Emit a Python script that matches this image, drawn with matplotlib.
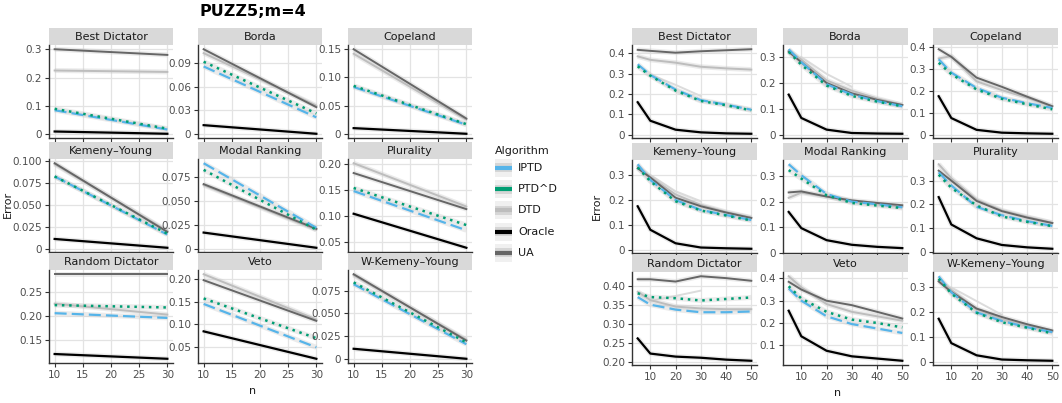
import numpy as np
import matplotlib
matplotlib.use("Agg")
import matplotlib.pyplot as plt
from matplotlib.patches import Rectangle

W, H, DPI = 1062, 403, 100

panels = ["Best Dictator", "Borda", "Copeland",
          "Kemeny\u2013Young", "Modal Ranking", "Plurality",
          "Random Dictator", "Veto", "W-Kemeny\u2013Young"]
algorithms = ["IPTD", "PTD^D", "DTD", "Oracle", "UA"]

# ---------------- left grid (PUZZ5; m=4) ----------------
left_n = [10, 30]
left_iptd = [[0.085, 0.017], [0.086, 0.021], [0.083, 0.016],
             [0.082, 0.016], [0.090, 0.022], [0.148, 0.072],
             [0.206, 0.196], [0.145, 0.050], [0.082, 0.016]]
left_ptdd = [[0.090, 0.020], [0.092, 0.026], [0.085, 0.017],
             [0.082, 0.017], [0.083, 0.020], [0.154, 0.082],
             [0.223, 0.218], [0.157, 0.070], [0.084, 0.018]]
left_dtd = [[0.225, 0.220], [0.103, 0.036], [0.142, 0.025],
            [0.096, 0.020], [0.067, 0.020], [0.202, 0.118],
            [0.226, 0.203], [0.210, 0.111], [0.092, 0.021]]
left_oracle = [[0.010, 0.002], [0.011, 0.000], [0.010, 0.000],
               [0.011, 0.001], [0.017, 0.001], [0.104, 0.038],
               [0.120, 0.110], [0.085, 0.025], [0.011, 0.000]]
left_ua = [[0.300, 0.280], [0.108, 0.034], [0.150, 0.027],
           [0.097, 0.019], [0.068, 0.021], [0.183, 0.113],
           [0.288, 0.288], [0.197, 0.108], [0.093, 0.020]]
left_yticks = [[0, 0.1, 0.2, 0.3], [0, 0.03, 0.06, 0.09], [0, 0.05, 0.1, 0.15],
               [0, 0.025, 0.05, 0.075, 0.1], [0, 0.025, 0.05, 0.075], [0.05, 0.1, 0.15, 0.2],
               [0.15, 0.2, 0.25], [0.05, 0.1, 0.15, 0.2], [0, 0.025, 0.05, 0.075]]
left_xticks = [10, 15, 20, 25, 30]

# ---------------- right grid ----------------
right_n = [5, 10, 20, 30, 40, 50]
right_iptd = [[0.346, 0.294, 0.222, 0.170, 0.148, 0.123],
              [0.330, 0.280, 0.195, 0.155, 0.130, 0.110],
              [0.346, 0.285, 0.215, 0.170, 0.145, 0.123],
              [0.343, 0.280, 0.200, 0.160, 0.140, 0.120],
              [0.346, 0.303, 0.230, 0.200, 0.190, 0.178],
              [0.335, 0.280, 0.190, 0.155, 0.130, 0.110],
              [0.370, 0.350, 0.337, 0.330, 0.330, 0.332],
              [0.355, 0.300, 0.230, 0.195, 0.175, 0.155],
              [0.345, 0.280, 0.200, 0.165, 0.140, 0.120]]
right_ptdd = [[0.336, 0.290, 0.217, 0.166, 0.145, 0.120],
              [0.320, 0.270, 0.190, 0.150, 0.128, 0.110],
              [0.330, 0.278, 0.208, 0.165, 0.140, 0.117],
              [0.330, 0.275, 0.195, 0.158, 0.138, 0.118],
              [0.323, 0.290, 0.225, 0.195, 0.185, 0.175],
              [0.325, 0.270, 0.196, 0.150, 0.127, 0.109],
              [0.380, 0.370, 0.367, 0.361, 0.365, 0.369],
              [0.365, 0.310, 0.250, 0.215, 0.200, 0.180],
              [0.335, 0.275, 0.198, 0.160, 0.138, 0.115]]
right_dtd = [[0.385, 0.368, 0.354, 0.334, 0.326, 0.320],
             [0.325, 0.290, 0.210, 0.170, 0.140, 0.115],
             [0.350, 0.360, 0.245, 0.205, 0.170, 0.130],
             [0.335, 0.292, 0.222, 0.180, 0.152, 0.130],
             [0.215, 0.235, 0.220, 0.200, 0.190, 0.180],
             [0.369, 0.310, 0.220, 0.175, 0.148, 0.123],
             [0.384, 0.362, 0.345, 0.340, 0.338, 0.338],
             [0.410, 0.360, 0.285, 0.250, 0.230, 0.210],
             [0.330, 0.290, 0.212, 0.172, 0.145, 0.122]]
right_oracle = [[0.160, 0.069, 0.025, 0.012, 0.007, 0.005],
                [0.155, 0.065, 0.020, 0.007, 0.005, 0.004],
                [0.177, 0.077, 0.023, 0.010, 0.007, 0.005],
                [0.175, 0.081, 0.027, 0.010, 0.007, 0.005],
                [0.160, 0.097, 0.050, 0.032, 0.024, 0.019],
                [0.231, 0.116, 0.058, 0.030, 0.020, 0.014],
                [0.261, 0.221, 0.213, 0.210, 0.205, 0.202],
                [0.255, 0.140, 0.075, 0.050, 0.040, 0.030],
                [0.174, 0.076, 0.027, 0.010, 0.007, 0.005]]
right_ua = [[0.417, 0.412, 0.403, 0.410, 0.415, 0.420],
            [0.320, 0.280, 0.200, 0.160, 0.135, 0.115],
            [0.392, 0.357, 0.262, 0.220, 0.175, 0.131],
            [0.327, 0.290, 0.209, 0.175, 0.150, 0.128],
            [0.236, 0.240, 0.220, 0.205, 0.195, 0.186],
            [0.342, 0.300, 0.215, 0.172, 0.145, 0.122],
            [0.417, 0.417, 0.411, 0.425, 0.420, 0.413],
            [0.385, 0.350, 0.300, 0.280, 0.250, 0.220],
            [0.324, 0.282, 0.215, 0.181, 0.152, 0.127]]
right_faint = [[np.nan, 0.296, 0.245, 0.190, np.nan, np.nan],
               [np.nan, 0.300, 0.235, 0.185, np.nan, np.nan],
               [np.nan] * 6,
               [np.nan, 0.300, 0.235, 0.195, np.nan, np.nan],
               [np.nan] * 6,
               [np.nan] * 6,
               [np.nan, 0.360, 0.373, 0.387, np.nan, np.nan],
               [np.nan] * 6,
               [np.nan, 0.300, 0.245, 0.190, np.nan, np.nan]]
right_yticks = [[0, 0.1, 0.2, 0.3, 0.4], [0, 0.1, 0.2, 0.3], [0, 0.1, 0.2, 0.3, 0.4],
                [0, 0.1, 0.2, 0.3], [0, 0.1, 0.2, 0.3], [0, 0.1, 0.2, 0.3],
                [0.2, 0.25, 0.3, 0.35, 0.4], [0.1, 0.2, 0.3, 0.4], [0, 0.1, 0.2, 0.3]]
right_xticks = [10, 20, 30, 40, 50]

# ---------------- styles ----------------
COL = {"IPTD": "#56B4E9", "PTD^D": "#009E73", "DTD": "#BDBDBD",
       "Oracle": "#000000", "UA": "#666666"}
STYLE = {"DTD": dict(ls="-", lw=1.4),
         "UA": dict(ls="-", lw=1.4),
         "Oracle": dict(ls="-", lw=1.6),
         "IPTD": dict(ls=(0, (5.4, 2.3)), lw=1.6),
         "PTD^D": dict(ls=(0, (1, 1.9)), lw=1.8)}
TXT = "#1A1A1A"
TICKC = "#4D4D4D"

fig = plt.figure(figsize=(W / DPI, H / DPI), dpi=DPI)


def fig_axes(x0, y_top, w, h):
    return fig.add_axes([x0 / W, 1 - (y_top + h) / H, w / W, h / H])


def decimals(v):
    s = repr(float(v))
    return len(s.split(".")[1].rstrip("0")) if "." in s else 0


def tick_labels(vals):
    d = max(decimals(v) for v in vals)
    return ["0" if v == 0 else f"{v:.{d}f}" for v in vals]


def draw_grid(col_x, strip_tops, width, xvals, xlim, xticks, data, faint, yticks):
    strip_h, ax_h = 17, 93
    for i, name in enumerate(panels):
        r, c = divmod(i, 3)
        x0 = col_x[c]
        st = strip_tops[r]
        # strip
        sax = fig_axes(x0, st, width, strip_h)
        sax.set_axis_off()
        sax.add_patch(Rectangle((0, 0), 1, 1, transform=sax.transAxes,
                                facecolor="#D9D9D9", edgecolor="none"))
        sax.text(0.5, 0.47, name, ha="center", va="center", fontsize=8, color=TXT,
                 transform=sax.transAxes)
        ax = fig_axes(x0, st + strip_h, width, ax_h)
        ax.set_facecolor("white")
        ax.grid(True, color="#E3E3E3", lw=0.9)
        ax.set_axisbelow(True)
        if faint is not None:
            ax.plot(xvals, faint[i], color="#DCDCDC", lw=1.4, zorder=1.5)
        for alg in ["DTD", "UA", "Oracle", "IPTD", "PTD^D"]:
            y = data[alg][i]
            ax.plot(xvals, y, color="#C8C8C8", lw=3.6, alpha=0.35,
                    solid_capstyle="butt", zorder=1.8)
            ax.plot(xvals, y, color=COL[alg], zorder=2, **STYLE[alg])
        ax.set_xlim(*xlim)
        ax.margins(y=0.05)
        ax.set_xticks(xticks)
        ax.set_yticks(yticks[i])
        ax.set_yticklabels(tick_labels(yticks[i]))
        for s in ["top", "right"]:
            ax.spines[s].set_visible(False)
        for s in ["left", "bottom"]:
            ax.spines[s].set_color("#333333")
            ax.spines[s].set_linewidth(1.0)
        ax.tick_params(axis="both", length=3, width=0.8, color="#333333",
                       labelsize=7.5, labelcolor=TICKC, pad=2)
        if r < 2:
            ax.tick_params(axis="x", labelbottom=False)


left_data = {"IPTD": left_iptd, "PTD^D": left_ptdd, "DTD": left_dtd,
             "Oracle": left_oracle, "UA": left_ua}
right_data = {"IPTD": right_iptd, "PTD^D": right_ptdd, "DTD": right_dtd,
              "Oracle": right_oracle, "UA": right_ua}

draw_grid([49, 198, 348], [28, 142, 253], 124, left_n, (9, 31), left_xticks,
          left_data, None, left_yticks)
draw_grid([632, 783, 933], [28, 143, 255], 125, right_n, (2.75, 52.25), right_xticks,
          right_data, right_faint, right_yticks)

# titles / axis labels
fig.text(253 / W, 1 - 12 / H, "PUZZ5;m=4", ha="center", va="center",
         fontsize=11.5, fontweight="bold", color="black")
fig.text(8 / W, 1 - 204 / H, "Error", rotation=90, ha="center", va="center",
         fontsize=8, color=TXT)
fig.text(597 / W, 1 - 206 / H, "Error", rotation=90, ha="center", va="center",
         fontsize=8, color=TXT)
fig.text(253 / W, 1 - 391 / H, "n", ha="center", va="center", fontsize=8, color=TXT)
fig.text(838 / W, 1 - 393 / H, "n", ha="center", va="center", fontsize=8, color=TXT)

# legend
lax = fig.add_axes([488 / W, 1 - 268 / H, 90 / W, 128 / H])
lax.set_xlim(488, 578)
lax.set_ylim(268, 140)
lax.set_axis_off()
lax.text(495, 151, "Algorithm", ha="left", va="center", fontsize=8, color=TXT)
key_y = [168, 189.5, 210.5, 232, 253]
for alg, cy in zip(algorithms, key_y):
    lax.add_patch(Rectangle((495, cy - 9), 17, 18, facecolor="#F0F0F0", edgecolor="none"))
    lax.add_patch(Rectangle((495, cy - 4.5), 17, 9, facecolor="#D6D6D6", edgecolor="none"))
    lax.plot([495, 512], [cy, cy], color=COL[alg], lw=3, solid_capstyle="butt")
    lax.text(518, cy, alg, ha="left", va="center", fontsize=8, color=TXT)

fig.savefig("out.png", dpi=DPI)
